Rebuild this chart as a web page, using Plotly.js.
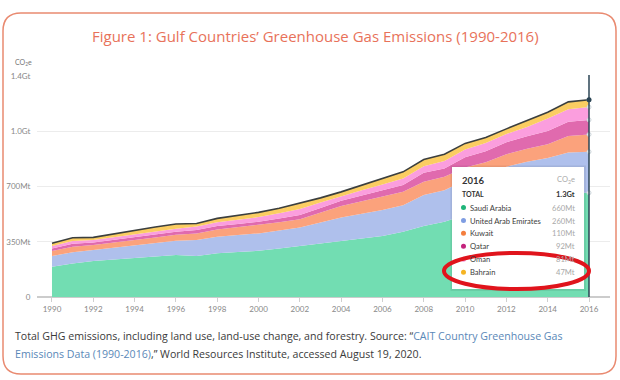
<!DOCTYPE html>
<html>
<head>
<meta charset="utf-8">
<script src="https://cdn.plot.ly/plotly-3.0.1.min.js"></script>
<style>html,body{margin:0;padding:0;background:#fff;}#chart{width:620px;height:380px;}</style>
</head>
<body>
<div id="chart"></div>
<script>
// ---- data (Mt CO2e) ----
const years = [1990,1991,1992,1993,1994,1995,1996,1997,1998,1999,2000,2001,2002,2003,2004,2005,2006,2007,2008,2009,2010,2011,2012,2013,2014,2015,2016];
const saudiArabia = [192,213,228,238,249,257,266,259,277,285,293,308,323,338,354,370,386,413,449,477,520,545,585,605,630,660,660];
const uae         = [68,70,69,74,80,85,90,102,105,108,110,114,118,134,150,158,165,169,197,200,220,230,240,252,251,255,260];
const kuwait      = [31,35,32,32,32,35,38,42,46,49,53,52,51,62,72,78,84,84,84,84,80,78,80,82,87,105,110];
const qatar       = [17,19,17,19,21,20,19,21,21,21,21,24,27,30,33,37,42,43,57,53,65,70,75,80,84,90,92];
const oman        = [15,17,15,17,17,18,20,22,24,27,29,33,39,35,30,33,36,42,42,48,50,52,52,58,78,80,81];
const bahrain     = [17,21,17,20,25,28,29,20,25,27,30,31,35,29,27,32,38,42,42,42,38,35,33,38,40,46,47];

const seriesNames = ["Saudi Arabia","United Arab Emirates","Kuwait","Qatar","Oman","Bahrain"];
const seriesData = [saudiArabia, uae, kuwait, qatar, oman, bahrain];
const tooltipYear = "2016";
const tooltipTotal = "1.3Gt";
const tooltipValues = ["660Mt","260Mt","110Mt","92Mt","81Mt","47Mt"];
const yTickVals = [0,350,700,1050,1400];
const yTickText = ["0","350Mt","700Mt","1.0Gt","1.4Gt"];
const xTickVals = [1990,1992,1994,1996,1998,2000,2002,2004,2006,2008,2010,2012,2014,2016];

// ---- styles ----
const fillColors = ["#72ddb2","#afc0ec","#fba27c","#e06aae","#fb9ede","#fbcd62"];
const dotColors  = ["#1fb579","#7f9de2","#f47e3e","#c4237c","#f58fd8","#f5b423"];

const W = 620, H = 380;
const M = {l:37, r:10, t:76, b:83};
const PW = W - M.l - M.r, PH = H - M.t - M.b;
const px = x => (x - M.l) / PW;
const py = y => (H - M.b - y) / PH;

const traces = [];
seriesData.forEach((d, i) => {
  traces.push({
    x: years, y: d, name: seriesNames[i], type: 'scatter', mode: 'lines',
    stackgroup: 'one', line: {width: 0, color: fillColors[i]},
    fillcolor: fillColors[i], hoverinfo: 'skip'
  });
});
const totals = years.map((_, j) => seriesData.reduce((s, d) => s + d[j], 0));
traces.push({x: years, y: totals, type: 'scatter', mode: 'lines',
  line: {color: '#3b3f3f', width: 1.6}, hoverinfo: 'skip'});

// dots on the hover line at last year
const last = years.length - 1;
let cum = 0; const cumTops = [];
seriesData.forEach(d => { cum += d[last]; cumTops.push(cum); });
traces.push({x: cumTops.map(() => years[last]), y: cumTops, type: 'scatter', mode: 'markers',
  marker: {size: 4, color: '#ffffff', line: {color: '#c9d3d8', width: 1}}, hoverinfo: 'skip'});
traces.push({x: [years[last]], y: [totals[last]], type: 'scatter', mode: 'markers',
  marker: {size: 5, color: '#2b4555'}, hoverinfo: 'skip'});

const shapes = [
  // outer rounded border
  {type: 'path', xref: 'paper', yref: 'paper', layer: 'below',
   path: (() => {
     const x0 = 3, x1 = 616, y0 = 13, y1 = 374, r = 18;
     const P = (x, y) => px(x) + ',' + py(y);
     return 'M' + P(x0 + r, y0) + ' L' + P(x1 - r, y0) + ' Q' + P(x1, y0) + ' ' + P(x1, y0 + r) +
       ' L' + P(x1, y1 - r) + ' Q' + P(x1, y1) + ' ' + P(x1 - r, y1) +
       ' L' + P(x0 + r, y1) + ' Q' + P(x0, y1) + ' ' + P(x0, y1 - r) +
       ' L' + P(x0, y0 + r) + ' Q' + P(x0, y0) + ' ' + P(x0 + r, y0) + ' Z';
   })(),
   line: {color: '#e98a70', width: 1.5}, fillcolor: 'rgba(0,0,0,0)'},
  // hover spike line
  {type: 'line', xref: 'x', yref: 'paper', x0: 2016, x1: 2016, y0: 0, y1: 1.005, layer: 'above',
   line: {color: '#2b4555', width: 1.5}},
  // tooltip shadow + box
  {type: 'rect', xref: 'paper', yref: 'paper', layer: 'above',
   x0: px(450.5), x1: px(586), y0: py(165.5), y1: py(291),
   line: {width: 0}, fillcolor: 'rgba(0,0,0,0.07)'},
  {type: 'rect', xref: 'paper', yref: 'paper', layer: 'above',
   x0: px(452), x1: px(584), y0: py(167), y1: py(289),
   line: {width: 0}, fillcolor: '#ffffff'}
];

const annotations = [
  {text: 'Figure 1: Gulf Countries’ Greenhouse Gas Emissions (1990-2016)', xref: 'paper', yref: 'paper',
   x: px(315), y: py(36), xanchor: 'center', yanchor: 'middle', showarrow: false,
   font: {family: 'Open Sans', size: 15, color: '#e8725a'}},
  {text: 'CO<sub>2</sub>e', xref: 'paper', yref: 'paper', x: px(13), y: py(62), xanchor: 'left', yanchor: 'middle',
   showarrow: false, font: {family: 'Lato', size: 7, color: '#777'}},
  {text: 'Total GHG emissions, including land use, land-use change, and forestry. Source: “<span style="color:#5a88b8">CAIT Country Greenhouse Gas</span>',
   xref: 'paper', yref: 'paper', x: px(13), y: py(336), xanchor: 'left', yanchor: 'middle', showarrow: false,
   font: {family: 'Open Sans', size: 10.6, color: '#3a3a3a'}},
  {text: '<span style="color:#5a88b8">Emissions Data (1990-2016)</span>,” World Resources Institute, accessed August 19, 2020.',
   xref: 'paper', yref: 'paper', x: px(13), y: py(354), xanchor: 'left', yanchor: 'middle', showarrow: false,
   font: {family: 'Open Sans', size: 10.6, color: '#3a3a3a'}},
  // tooltip header
  {text: '<b>' + tooltipYear + '</b>', xref: 'paper', yref: 'paper', x: px(460), y: py(180), xanchor: 'left', yanchor: 'middle',
   showarrow: false, font: {family: 'Lato', size: 9.5, color: '#333'}},
  {text: 'CO<sub>2</sub>e', xref: 'paper', yref: 'paper', x: px(577), y: py(180), xanchor: 'right', yanchor: 'middle',
   showarrow: false, font: {family: 'Lato', size: 7.5, color: '#aaa'}},
  {text: '<b>TOTAL</b>', xref: 'paper', yref: 'paper', x: px(460), y: py(194), xanchor: 'left', yanchor: 'middle',
   showarrow: false, font: {family: 'Lato', size: 7, color: '#333'}},
  {text: '<b>' + tooltipTotal + '</b>', xref: 'paper', yref: 'paper', x: px(577), y: py(194), xanchor: 'right', yanchor: 'middle',
   showarrow: false, font: {family: 'Lato', size: 7.5, color: '#333'}}
];
const rowY = [207.5, 220.5, 233.3, 246.2, 259.2, 272.2];
seriesNames.forEach((n, i) => {
  shapes.push({type: 'circle', xref: 'paper', yref: 'paper', layer: 'above',
    x0: px(461), x1: px(466), y0: py(rowY[i] - 2.5), y1: py(rowY[i] + 2.5),
    line: {width: 0}, fillcolor: dotColors[i]});
  annotations.push({text: n, xref: 'paper', yref: 'paper', x: px(468), y: py(rowY[i]), xanchor: 'left', yanchor: 'middle',
    showarrow: false, font: {family: 'Lato', size: 7.6, color: '#3d3d3d'}});
  annotations.push({text: tooltipValues[i], xref: 'paper', yref: 'paper', x: px(577), y: py(rowY[i]), xanchor: 'right', yanchor: 'middle',
    showarrow: false, font: {family: 'Lato', size: 7.6, color: '#a8a8a8'}});
});
// red ellipse (on top of the tooltip)
shapes.push({type: 'circle', xref: 'paper', yref: 'paper', layer: 'above',
   x0: px(444), x1: px(589), y0: py(253), y1: py(289),
   line: {color: '#e0141c', width: 4}, fillcolor: 'rgba(0,0,0,0)'});

const layout = {
  width: W, height: H, margin: M, showlegend: false,
  paper_bgcolor: '#ffffff', plot_bgcolor: '#ffffff',
  font: {family: 'Lato', color: '#888'},
  xaxis: {range: [1989.274, 2017.017], tickvals: xTickVals, ticktext: xTickVals.map(String),
    showgrid: false, zeroline: false, showline: false, ticks: 'outside', ticklen: 4, tickcolor: '#cfcfcf',
    tickfont: {family: 'Lato', size: 8, color: '#888'}, fixedrange: true},
  yaxis: {range: [0, 1400], tickvals: yTickVals, ticktext: yTickText, showgrid: true, gridcolor: '#ececec',
    gridwidth: 1, zeroline: true, zerolinecolor: '#cccccc', zerolinewidth: 1.2, showline: false,
    ticks: 'outside', ticklen: 4, tickcolor: 'rgba(0,0,0,0)',
    tickfont: {family: 'Lato', size: 8, color: '#888'}, fixedrange: true},
  shapes: shapes, annotations: annotations
};

Plotly.newPlot('chart', traces, layout, {displayModeBar: false, staticPlot: true});
</script>
</body>
</html>
